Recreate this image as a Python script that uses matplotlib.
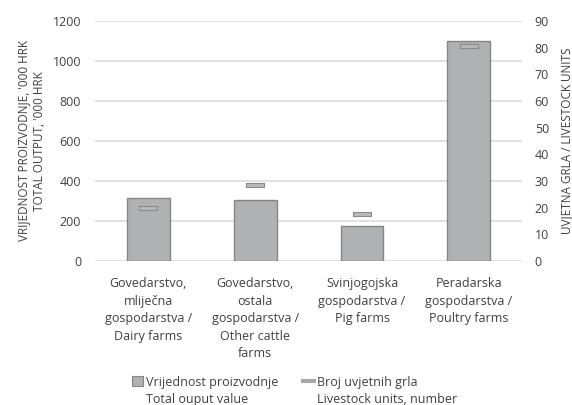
import matplotlib
matplotlib.use('Agg')
from matplotlib import pyplot as plt
from matplotlib.patches import Patch
from matplotlib.lines import Line2D

plt.rcParams['font.family'] = ['Open Sans', 'DejaVu Sans']

categories = ['Govedarstvo,\nmliječna\ngospodarstva /\nDairy farms',
              'Govedarstvo,\nostala\ngospodarstva /\nOther cattle\nfarms',
              'Svinjogojska\ngospodarstva /\nPig farms',
              'Peradarska\ngospodarstva /\nPoultry farms']
output_value = [315, 305, 175, 1100]
livestock_units = [20, 28.5, 17.6, 80.8]

left_ticks = [0, 200, 400, 600, 800, 1000, 1200]
right_ticks = [0, 10, 20, 30, 40, 50, 60, 70, 80, 90]

text_col = '#404040'
bar_col = '#b0b1b3'
edge_col = '#858585'

fig = plt.figure(figsize=(5.72, 4.05), dpi=100)
ax = fig.add_axes([0.166, 0.356, 0.747, 0.592])
ax2 = ax.twinx()

x = list(range(len(categories)))
ax.bar(x, output_value, width=0.4, color=bar_col, edgecolor=edge_col, linewidth=1.0, zorder=3)

# flat dash marker for the livestock units
dash = [(-2, -0.5), (2, -0.5), (2, 0.5), (-2, 0.5), (-2, -0.5)]
ax2.plot(x, livestock_units, linestyle='none', marker=dash, markersize=12.5,
         markerfacecolor='#b8b9bb', markeredgecolor='#8a8a8a', markeredgewidth=0.8, zorder=4)

ax.set_xlim(-0.5, 3.5)
ax.set_ylim(0, 1200)
ax2.set_ylim(0, 90)
ax.set_yticks(left_ticks)
ax2.set_yticks(right_ticks)
ax.set_xticks(x)
ax.set_xticklabels(categories, fontsize=9, color=text_col, linespacing=1.45)
ax.tick_params(axis='x', length=0, pad=12)
ax.tick_params(axis='y', length=0, pad=10, labelsize=9, labelcolor=text_col)
ax2.tick_params(axis='y', length=0, pad=9, labelsize=9, labelcolor=text_col)

ax.grid(axis='y', color='#dcdcdc', linewidth=1.2, zorder=0)
for a in (ax, ax2):
    for s in a.spines.values():
        s.set_visible(False)

ax.set_ylabel("VRIJEDNOST PROIZVODNJE, '000 HRK\nTOTAL OUTPUT, '000 HRK",
              fontsize=8.5, color=text_col, labelpad=5, linespacing=1.3)
ax2.set_ylabel('UVJETNA GRLA / LIVESTOCK UNITS', fontsize=8.5, color=text_col, labelpad=8)

blank = Patch(facecolor='none', edgecolor='none')
handles = [Patch(facecolor=bar_col, edgecolor=edge_col, linewidth=0.8), blank,
           Line2D([], [], color='#a8a8a8', linewidth=3), blank]
labels = ['Vrijednost proizvodnje', 'Total ouput value',
          'Broj uvjetnih grla', 'Livestock units, number']
fig.legend(handles, labels, loc='lower center', bbox_to_anchor=(0.515, -0.03), ncol=2,
           frameon=False, fontsize=9, labelcolor=text_col, handlelength=0.9, handleheight=0.9,
           handletextpad=0.2, columnspacing=2.0, labelspacing=0.35)

fig.savefig('out.png', dpi=100)
